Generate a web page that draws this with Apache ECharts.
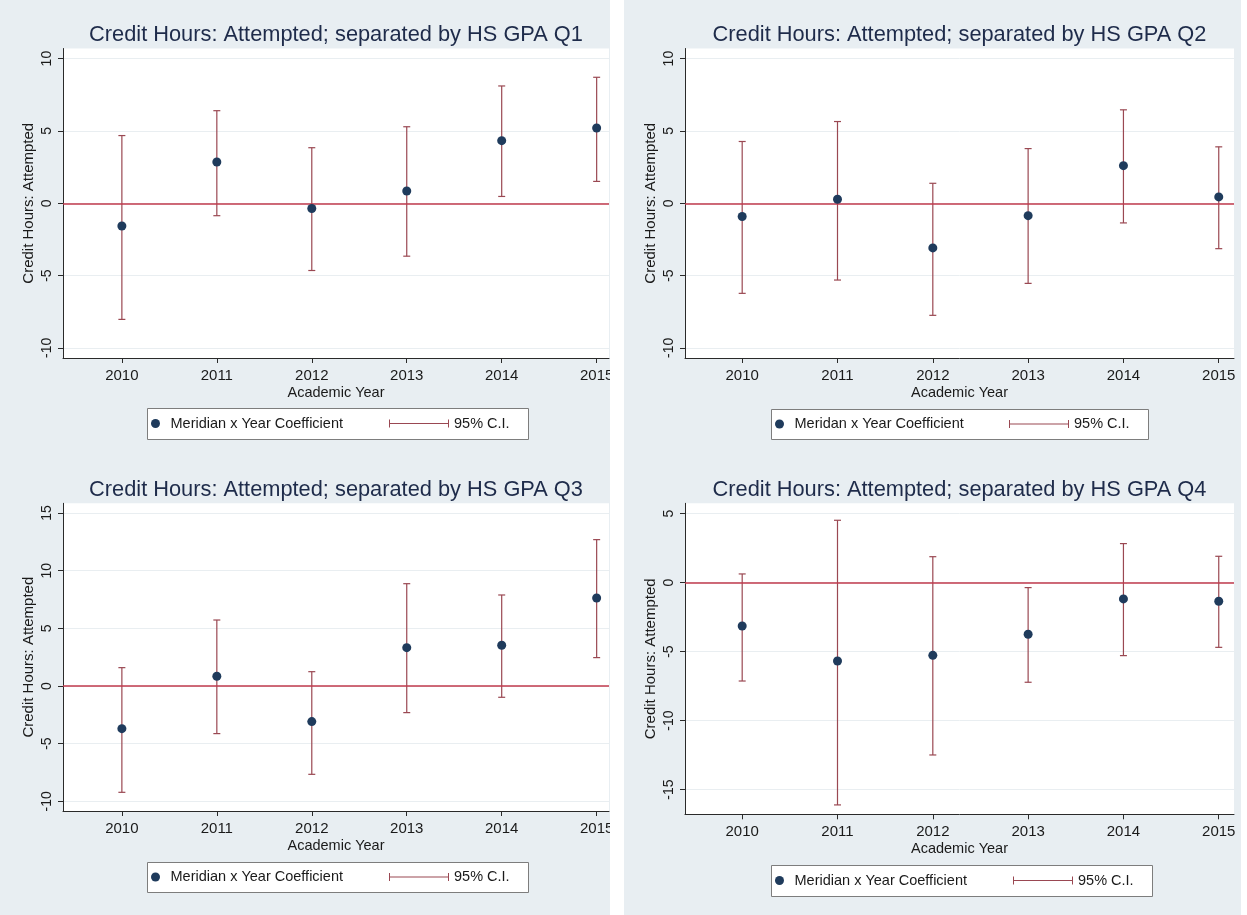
<!DOCTYPE html>
<html>
<head>
<meta charset="utf-8">
<script src="https://cdn.jsdelivr.net/npm/echarts@6/dist/echarts.min.js"></script>
<style>
  html, body { margin: 0; padding: 0; background: #ffffff; }
  body { width: 1247px; height: 915px; position: relative; overflow: hidden; }
  .panel { position: absolute; background: #e8eef2; overflow: hidden; }
  .panel > div { width: 100%; height: 100%; }
</style>
</head>
<body>
<div class="panel" id="p1" style="left:0;top:0;width:610px;height:455px"><div id="c1"></div></div>
<div class="panel" id="p2" style="left:624px;top:0;width:617px;height:455px"><div id="c2"></div></div>
<div class="panel" id="p3" style="left:0;top:455px;width:610px;height:460px"><div id="c3"></div></div>
<div class="panel" id="p4" style="left:624px;top:455px;width:617px;height:460px"><div id="c4"></div></div>
<script>
// ---------------- data ----------------
const years = [2010, 2011, 2012, 2013, 2014, 2015];

const titles = [
  'Credit Hours: Attempted; separated by HS GPA Q1',
  'Credit Hours: Attempted; separated by HS GPA Q2',
  'Credit Hours: Attempted; separated by HS GPA Q3',
  'Credit Hours: Attempted; separated by HS GPA Q4'
];
const coefLabels = [
  'Meridian x Year Coefficient',
  'Meridan x Year Coefficient',
  'Meridian x Year Coefficient',
  'Meridian x Year Coefficient'
];
const ciLabel = '95% C.I.';
const yTitle = 'Credit Hours: Attempted';
const xTitle = 'Academic Year';

const q1Coef = [-1.57, 2.85, -0.36, 0.85, 4.33, 5.20];
const q1Low  = [-8.03, -0.86, -4.65, -3.66, 0.47, 1.51];
const q1High = [4.68, 6.40, 3.84, 5.29, 8.11, 8.71];

const q2Coef = [-0.92, 0.28, -3.09, -0.86, 2.60, 0.44];
const q2Low  = [-6.23, -5.31, -7.75, -5.54, -1.36, -3.14];
const q2High = [4.27, 5.65, 1.38, 3.78, 6.46, 3.90];

const q3Coef = [-3.70, 0.84, -3.09, 3.32, 3.53, 7.63];
const q3Low  = [-9.22, -4.13, -7.66, -2.31, -0.98, 2.46];
const q3High = [1.59, 5.72, 1.24, 8.87, 7.89, 12.69];

const q4Coef = [-3.14, -5.68, -5.27, -3.74, -1.18, -1.35];
const q4Low  = [-7.13, -16.11, -12.49, -7.22, -5.29, -4.69];
const q4High = [0.63, 4.52, 1.88, -0.36, 2.83, 1.91];

const q1Ticks = [-10, -5, 0, 5, 10];
const q2Ticks = [-10, -5, 0, 5, 10];
const q3Ticks = [-10, -5, 0, 5, 10, 15];
const q4Ticks = [-15, -10, -5, 0, 5];

// ---------------- styles / layout ----------------
const FONT = "'Liberation Sans', Arial, Helvetica, sans-serif";
const TITLE_COLOR = '#1e2b4a';
const TEXT_COLOR = '#1a1a1a';
const DOT_COLOR = '#1f3b5c';
const CI_COLOR = '#9a4852';
const ZERO_COLOR = '#c03a4c';
const GRID_COLOR = '#e9eef1';
const AXIS_COLOR = '#2a2a2a';

const layouts = [
  { grid: {left: 63, top: 48.5, width: 546, height: 309.5}, xRange: [2009.38, 2015.13], yRange: [-10.7, 10.7],
    box: {x: 147, y: 408, w: 381, h: 31}, ciShift: 0 },
  { grid: {left: 61, top: 48.5, width: 549, height: 309.5}, xRange: [2009.4, 2015.16], yRange: [-10.7, 10.7],
    box: {x: 147, y: 409, w: 377, h: 30}, ciShift: -4 },
  { grid: {left: 63, top: 48.3, width: 546, height: 307.7}, xRange: [2009.38, 2015.13], yRange: [-10.84, 15.84],
    box: {x: 147, y: 407, w: 381, h: 30}, ciShift: 0 },
  { grid: {left: 61, top: 48.3, width: 549, height: 311}, xRange: [2009.4, 2015.16], yRange: [-16.79, 5.75],
    box: {x: 147, y: 410, w: 381, h: 31}, ciShift: 0 }
];

const panels = [
  { el: 'c1', coef: q1Coef, low: q1Low, high: q1High, ticks: q1Ticks },
  { el: 'c2', coef: q2Coef, low: q2Low, high: q2High, ticks: q2Ticks },
  { el: 'c3', coef: q3Coef, low: q3Low, high: q3High, ticks: q3Ticks },
  { el: 'c4', coef: q4Coef, low: q4Low, high: q4High, ticks: q4Ticks }
];

const CI_ICON = 'path://M0,3.5L60,3.5L60,4.5L0,4.5Z M0,0L1,0L1,8L0,8Z M59,0L60,0L60,8L59,8Z';

function buildOption(p, i) {
  const L = layouts[i];
  const g = L.grid;
  const plotCenter = g.left + g.width / 2;
  const scatterData = years.map((y, k) => [y, p.coef[k]]);
  const ciData = years.map((y, k) => [y, p.low[k], p.high[k]]);
  const legendCenterY = L.box.y + L.box.h / 2;

  return {
    animation: false,
    textStyle: { fontFamily: FONT },
    title: {
      text: titles[i],
      left: plotCenter,
      top: 24,
      padding: 0,
      textAlign: 'center',
      textStyle: { fontFamily: FONT, fontSize: 21.8, fontWeight: 'normal', color: TITLE_COLOR }
    },
    grid: {
      left: g.left, top: g.top, width: g.width, height: g.height,
      show: true, backgroundColor: '#ffffff', borderWidth: 0,
      containLabel: false, outerBoundsMode: 'none'
    },
    xAxis: {
      type: 'value',
      min: L.xRange[0], max: L.xRange[1],
      name: xTitle, nameLocation: 'middle', nameGap: 27, nameMoveOverlap: false,
      nameTextStyle: { fontFamily: FONT, fontSize: 14.5, color: TEXT_COLOR },
      axisLine: { show: true, onZero: false, lineStyle: { color: AXIS_COLOR, width: 1 } },
      axisTick: { show: true, inside: false, length: 5, customValues: years, lineStyle: { color: AXIS_COLOR } },
      axisLabel: { show: true, customValues: years, margin: 10, fontFamily: FONT, fontSize: 15, color: TEXT_COLOR,
                   formatter: v => String(Math.round(v)) },
      splitLine: { show: false }
    },
    yAxis: {
      type: 'value',
      min: L.yRange[0], max: L.yRange[1],
      name: yTitle, nameLocation: 'middle', nameGap: 27, nameRotate: 90, nameMoveOverlap: false,
      nameTextStyle: { fontFamily: FONT, fontSize: 15, color: TEXT_COLOR },
      axisLine: { show: true, onZero: false, lineStyle: { color: AXIS_COLOR, width: 1 } },
      axisTick: { show: true, inside: false, length: 5, customValues: p.ticks, lineStyle: { color: AXIS_COLOR } },
      axisLabel: { show: true, customValues: p.ticks, rotate: 90, margin: 9, fontFamily: FONT, fontSize: 14, color: TEXT_COLOR },
      splitLine: { show: true, lineStyle: { color: GRID_COLOR, width: 1 } }
    },
    legend: [
      {
        data: [{ name: coefLabels[i], icon: 'circle', itemStyle: { color: DOT_COLOR } }],
        left: L.box.x + 4, top: legendCenterY - 8, padding: 0,
        itemWidth: 20, itemHeight: 9,
        selectedMode: false,
        textStyle: { fontFamily: FONT, fontSize: 14.5, color: TEXT_COLOR, lineHeight: 16 }
      },
      {
        data: [{ name: ciLabel, icon: CI_ICON, itemStyle: { color: CI_COLOR, borderWidth: 0 } }],
        left: L.box.x + 242 + L.ciShift, top: legendCenterY - 8, padding: 0,
        itemWidth: 60, itemHeight: 8,
        selectedMode: false,
        textStyle: { fontFamily: FONT, fontSize: 14.5, color: TEXT_COLOR, lineHeight: 16 }
      }
    ],
    graphic: [
      {
        type: 'rect', z: 0,
        shape: { x: L.box.x + 0.5, y: L.box.y + 0.5, width: L.box.w, height: L.box.h },
        style: { fill: '#ffffff', stroke: '#7d7d7d', lineWidth: 1 }
      }
    ],
    series: [
      {
        name: ciLabel,
        type: 'custom',
        data: ciData,
        encode: { x: 0, y: [1, 2] },
        z: 3,
        renderItem: function (params, api) {
          const x = api.value(0);
          const pLo = api.coord([x, api.value(1)]);
          const pHi = api.coord([x, api.value(2)]);
          const cap = 3.5;
          const st = { stroke: CI_COLOR, lineWidth: 1.2 };
          return {
            type: 'group',
            children: [
              { type: 'line', shape: { x1: pLo[0], y1: pLo[1], x2: pHi[0], y2: pHi[1] }, style: st },
              { type: 'line', shape: { x1: pLo[0] - cap, y1: pLo[1], x2: pLo[0] + cap, y2: pLo[1] }, style: st },
              { type: 'line', shape: { x1: pHi[0] - cap, y1: pHi[1], x2: pHi[0] + cap, y2: pHi[1] }, style: st }
            ]
          };
        },
        markLine: {
          silent: true, symbol: 'none', animation: false,
          label: { show: false },
          lineStyle: { color: ZERO_COLOR, width: 1.5, type: 'solid' },
          data: [{ yAxis: 0 }]
        }
      },
      {
        name: coefLabels[i],
        type: 'scatter',
        data: scatterData,
        symbol: 'circle',
        symbolSize: 9,
        z: 5,
        itemStyle: { color: DOT_COLOR, opacity: 1 }
      }
    ]
  };
}

panels.forEach((p, i) => {
  const chart = echarts.init(document.getElementById(p.el), null, { renderer: 'canvas' });
  chart.setOption(buildOption(p, i));
});
</script>
</body>
</html>
